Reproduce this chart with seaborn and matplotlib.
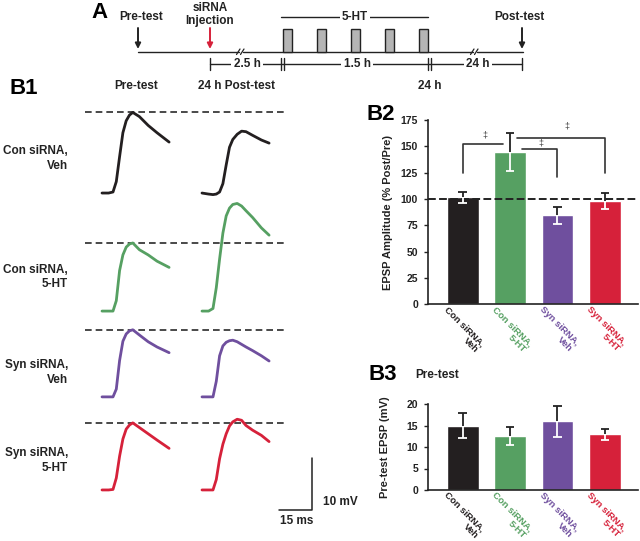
import matplotlib
matplotlib.use('Agg')
import matplotlib.pyplot as plt
from matplotlib import font_manager
from matplotlib.patches import Rectangle
import numpy as np
import seaborn as sns

groups = ['Con siRNA,\nVeh', 'Con siRNA,\n5-HT', 'Syn siRNA,\nVeh', 'Syn siRNA,\n5-HT']
group_colors = ['#231f20', '#56a062', '#6f4f9e', '#d6213a']

# B2: EPSP amplitude 24 h after treatment (% Post/Pre), mean and SEM
post_pre_mean = [101.5, 145.0, 84.5, 98.0]
post_pre_sem = [5.6, 18.0, 8.0, 7.4]

# B3: pre-test EPSP (mV), mean and SEM
pre_epsp_mean = [14.9, 12.6, 16.0, 13.0]
pre_epsp_sem = [2.9, 2.1, 3.6, 1.3]

# significant comparisons in B2 (bar index pairs)
sig_pairs = [(0, 1), (1, 2), (1, 3)]

# B1 example EPSPs: time from trace start (ms), mV above baseline
t_pre = [0, 3, 5, 6.5, 8, 9.5, 11, 12.5, 14, 17, 21, 25, 30.5]
t_post = [0, 3, 5, 6.5, 8, 9.5, 11, 12.5, 14, 16, 18, 20, 23, 27, 30.5]

con_veh_pre = [0, 0, 0.2, 2.2, 7.0, 11.6, 13.9, 15.0, 15.5, 14.7, 13.0, 11.6, 9.8]
con_veh_post = [0, -0.2, -0.3, -0.2, 0.2, 1.8, 5.4, 8.8, 10.3, 11.3, 11.9, 11.8, 11.1, 10.2, 9.6]
con_ht_pre = [0, 0, 0, 2.0, 7.8, 10.8, 12.3, 12.9, 13.1, 11.8, 10.8, 9.6, 8.4]
con_ht_post = [0, 0, 0.5, 4.5, 10.0, 15.0, 18.3, 19.8, 20.5, 20.7, 20.2, 19.3, 18.0, 16.0, 14.6]
syn_veh_pre = [0, 0, 0, 1.5, 7.0, 10.7, 12.1, 12.7, 12.9, 11.9, 10.6, 9.6, 8.5]
syn_veh_post = [0, 0, 0, 3.0, 7.9, 9.8, 10.5, 10.8, 10.9, 10.6, 10.1, 9.6, 8.9, 7.9, 6.9]
syn_ht_pre = [0, 0, 0.1, 2.3, 6.5, 9.8, 11.7, 12.5, 12.9, 12.0, 10.8, 9.6, 8.0]
syn_ht_post = [0, 0, 0, 2.0, 6.0, 8.8, 10.8, 12.3, 13.1, 13.6, 13.4, 12.4, 11.5, 10.5, 9.3]

# panel A schematic: 5-HT pulse onsets (pixels)
pulse_x = [283, 317, 351, 385, 419]

sns.set_theme(style='ticks')
plt.rcParams['font.family'] = ['Liberation Sans', 'DejaVu Sans']
plt.rcParams['font.weight'] = 'bold'

installed = {f.name for f in font_manager.fontManager.ttflist}
narrow = 'Liberation Sans Narrow' if 'Liberation Sans Narrow' in installed else 'Liberation Sans'
narrow_size = 7.5 if narrow == 'Liberation Sans Narrow' else 6.8

ink = '#222222'
fig = plt.figure(figsize=(6.4, 5.41), dpi=100)

# overlay in pixel coordinates for schematic + labels
ov = fig.add_axes([0, 0, 1, 1])
ov.set_xlim(0, 640)
ov.set_ylim(541, 0)
ov.axis('off')

lab = dict(fontsize=8.5, fontweight='bold', ha='center', va='center', color=ink)
box = dict(boxstyle='square,pad=0.2', fc='white', ec='none')

# ---- panel A
ov.text(99, 13, 'A', fontsize=16, fontweight='bold', ha='center', va='center', color='black')
ov.text(141, 17, 'Pre-test', **lab)
ov.text(210, 14.5, 'siRNA\nInjection', linespacing=1.1, **lab)
ov.text(519, 17, 'Post-test', **lab)
for x, c in [(138, ink), (210, '#d6213a'), (522, ink)]:
    ov.annotate('', xy=(x, 49), xytext=(x, 28),
                arrowprops=dict(arrowstyle='-|>', color=c, lw=1.4, mutation_scale=8,
                                shrinkA=0, shrinkB=0))
for x0, x1 in [(138, 239), (243, 473), (477, 523)]:
    ov.plot([x0, x1], [51.7, 51.7], color=ink, lw=1.0)
for x in [236.5, 240.5, 470.5, 474.5]:
    ov.plot([x, x + 3.5], [54.5, 49], color=ink, lw=0.9)
for x in pulse_x:
    ov.add_patch(Rectangle((x, 29), 9, 22.7, fc='#b5b5b5', ec=ink, lw=1.0, zorder=3))
ov.plot([281, 428], [17.3, 17.3], color=ink, lw=1.0)
ov.text(355, 17.3, '5-HT', bbox=box, **lab)
ov.plot([210, 522], [64, 64], color=ink, lw=1.0)
for x in [210, 281, 284, 428, 431, 522]:
    ov.plot([x, x], [58, 70], color=ink, lw=1.0)
for x, s in [(247, '2.5 h'), (357, '1.5 h'), (478, '24 h')]:
    ov.text(x, 64, s, bbox=box, **lab)
ov.text(430, 86, '24 h', **lab)

# ---- panel B1 labels
ov.text(24, 88, 'B1', fontsize=16, fontweight='bold', ha='center', va='center', color='black')
ov.text(136, 86, 'Pre-test', **lab)
ov.text(236, 86, '24 h Post-test', **lab)
for y, g in zip([158.5, 277, 372.5, 460.5], groups):
    ov.text(68, y, g, fontsize=8.5, fontweight='bold', ha='right', va='center',
            multialignment='right', linespacing=1.25, color=ink)
ov.text(323, 502, '10 mV', fontsize=8.5, fontweight='bold', ha='left', va='center', color=ink)
ov.text(297, 521, '15 ms', **lab)

ov.text(381, 114, 'B2', fontsize=16, fontweight='bold', ha='center', va='center', color='black')
ov.text(383, 375, 'B3', fontsize=16, fontweight='bold', ha='center', va='center', color='black')
ov.text(437.5, 375, 'Pre-test', **lab)

# ---- B1 traces (axes in ms / mV)
tr = fig.add_axes([80 / 640, 11 / 541, 250 / 640, 430 / 541])
tr.set_xlim(0, 250 / 2.2)
tr.set_ylim(0, 430 / 5.2)
tr.axis('off')
row_base = [64.8, 42.1, 25.6, 7.7]
pre_start, post_start = 10, 55.45
rows = [(con_veh_pre, con_veh_post), (con_ht_pre, con_ht_post),
        (syn_veh_pre, syn_veh_post), (syn_ht_pre, syn_ht_post)]
for (pre, post), base, c in zip(rows, row_base, group_colors):
    tr.plot([2.3, 94.1], [base + max(pre)] * 2, color='#2a2a2a', lw=1.2, dashes=(4, 2.4))
    sns.lineplot(x=np.array(t_pre) + pre_start, y=np.array(pre) + base, ax=tr,
                 color=c, lw=2.0, estimator=None, sort=False, solid_joinstyle='round')
    sns.lineplot(x=np.array(t_post) + post_start, y=np.array(post) + base, ax=tr,
                 color=c, lw=2.0, estimator=None, sort=False, solid_joinstyle='round')
tr.plot([90.5, 105.5, 105.5], [3.85, 3.85, 13.85], color=ink, lw=1.1)
tr.axis('off')


def bar_panel(ax, means, sems, ymax, step, ylabel, label_x):
    sns.barplot(x=groups, y=means, hue=groups, palette=group_colors, saturation=1,
                width=0.67, legend=False, errorbar=None, ax=ax, zorder=2)
    x = np.arange(len(means))
    m = np.array(means)
    s = np.array(sems)
    ax.vlines(x, m, m + s, color=ink, lw=1.3, zorder=4)
    ax.hlines(m + s, x - 0.09, x + 0.09, color=ink, lw=1.3, zorder=4)
    ax.vlines(x, m - s, m, color='white', lw=1.3, zorder=4)
    ax.hlines(m - s, x - 0.09, x + 0.09, color='white', lw=1.3, zorder=4)
    ax.set_xlim(-0.74, 3.70)
    ax.set_ylim(0, ymax)
    ax.set_yticks(np.arange(0, ymax + 1, step))
    ax.tick_params(axis='y', length=3, width=1, labelsize=7.5, pad=4, colors=ink)
    ax.tick_params(axis='x', length=0, labelbottom=False)
    for t in ax.get_yticklabels():
        t.set_fontweight('bold')
    sns.despine(ax=ax)
    for sp in ['left', 'bottom']:
        ax.spines[sp].set_linewidth(1.2)
        ax.spines[sp].set_color(ink)
    ax.set_facecolor('none')
    ax.set_xlabel('')
    ax.set_ylabel(ylabel, fontsize=8, fontweight='bold', color=ink)
    ax.yaxis.set_label_coords(label_x, 0.5)
    for i, (g, c) in enumerate(zip(groups, group_colors)):
        ax.annotate(g, xy=(i - 0.28, 0), xycoords=('data', 'axes fraction'),
                    xytext=(0, -0.3), textcoords='offset points', rotation=-45,
                    rotation_mode='anchor', ha='left', va='top', multialignment='right',
                    linespacing=0.97, color=c, fontsize=narrow_size, fontweight='bold',
                    family=[narrow, 'DejaVu Sans'])


# ---- B2
ax2 = fig.add_axes([427.7 / 640, (541 - 304.3) / 541, 210.3 / 640, 184.3 / 541])
bar_panel(ax2, post_pre_mean, post_pre_sem, 175, 25, 'EPSP Amplitude (% Post/Pre)', -0.165)
ax2.axhline(100, color=ink, lw=1.4, dashes=(4, 1.7), zorder=3)
bracket_y = [152, 147.7, 158]
bracket_near = [0.85, 1.26, 1.15]
bracket_low = [125, 121, 125]
dagger_xy = [(0.47, 160.7), (1.64, 152.8), (2.19, 169)]
for (a, b), y, near, low, (dx, dy) in zip(sig_pairs, bracket_y, bracket_near, bracket_low, dagger_xy):
    other = a if a != 1 else b
    ax2.plot([other, other, near], [low, y, y], color='#333333', lw=1.2, zorder=4)
    ax2.text(dx, dy, '\u2021', fontsize=6.5, fontweight='normal', ha='center', va='center',
             color='#444444')

# ---- B3
ax3 = fig.add_axes([427.7 / 640, (541 - 490) / 541, 210.3 / 640, 86 / 541])
bar_panel(ax3, pre_epsp_mean, pre_epsp_sem, 20, 5, 'Pre-test EPSP (mV)', -0.18)

fig.savefig('out.png', dpi=100)
